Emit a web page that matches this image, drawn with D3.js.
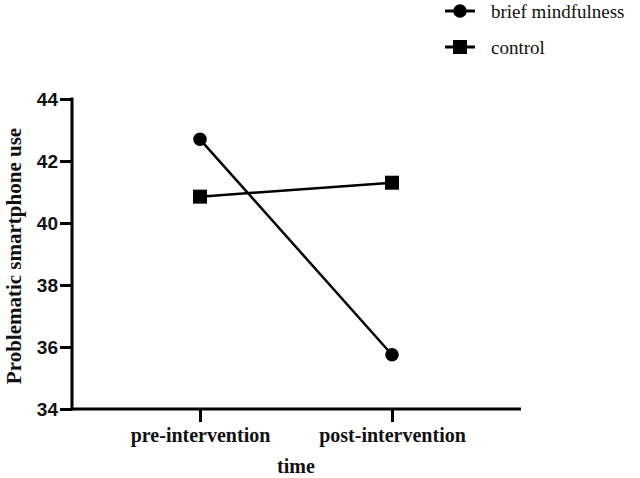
<!DOCTYPE html>
<html><head><meta charset="utf-8">
<script src="https://cdn.jsdelivr.net/npm/d3@7"></script>
<style>body{margin:0;background:#fff}
.serif{font-family:'Liberation Serif','Times New Roman',Times,serif}
.sans{font-family:'Liberation Sans',Arial,Helvetica,sans-serif}
</style>
</head><body>
<svg id="c" width="640" height="478"></svg>
<script>
const categories = ["pre-intervention", "post-intervention"];
const seriesNames = ["brief mindfulness", "control"];
const briefValues = [42.7, 35.75];
const controlValues = [40.85, 41.3];
const yTicks = [34, 36, 38, 40, 42, 44];

const svg = d3.select("#c");
const x = d3.scalePoint().domain(categories).range([200, 392]);
const y = d3.scaleLinear().domain([34, 44]).range([409, 99]);
const axisLeft = 72, axisRight = 521;

// Y axis
const ya = svg.append("g").attr("transform", `translate(${axisLeft},0)`)
  .call(d3.axisLeft(y).tickValues(yTicks).tickSize(12).tickPadding(2).tickFormat(d3.format("d")));
ya.select(".domain").remove();
ya.attr("font-family", null).attr("font-size", null);
ya.selectAll(".tick line").attr("stroke", "#000").attr("stroke-width", 3);
ya.selectAll(".tick text").attr("class", "sans")
  .style("font-weight", "bold").style("font-size", "19px").attr("fill", "#111");
svg.append("line").attr("x1", axisLeft).attr("x2", axisLeft).attr("y1", y(44) - 1.5).attr("y2", y(34) + 1.5)
  .attr("stroke", "#000").attr("stroke-width", 3);

// X axis
const xa = svg.append("g").attr("transform", `translate(0,${y(34)})`)
  .call(d3.axisBottom(x).tickSize(13).tickPadding(6));
xa.select(".domain").remove();
xa.attr("font-family", null).attr("font-size", null);
xa.selectAll(".tick line").attr("stroke", "#000").attr("stroke-width", 3);
xa.selectAll(".tick text").attr("class", "serif")
  .style("font-weight", "bold").style("font-size", "20px").attr("fill", "#111");
svg.append("line").attr("x1", axisLeft - 1.5).attr("x2", axisRight).attr("y1", y(34)).attr("y2", y(34))
  .attr("stroke", "#000").attr("stroke-width", 3);

// Titles
svg.append("text").attr("class", "serif").attr("x", 296).attr("y", 473).attr("text-anchor", "middle")
  .style("font-weight", "bold").style("font-size", "20px").attr("fill", "#111").text("time");
svg.append("text").attr("class", "serif").attr("transform", `translate(21,${(y(34)+y(44))/2 + 2}) rotate(-90)`)
  .attr("text-anchor", "middle")
  .style("font-weight", "bold").style("font-size", "21px").attr("fill", "#111").text("Problematic smartphone use");

// Lines
const line = d3.line().x((d, i) => x(categories[i])).y(d => y(d));
svg.append("path").datum(briefValues).attr("d", line).attr("fill", "none").attr("stroke", "#000").attr("stroke-width", 2.5);
svg.append("path").datum(controlValues).attr("d", line).attr("fill", "none").attr("stroke", "#000").attr("stroke-width", 2.5);

const circ = d3.symbol().type(d3.symbolCircle).size(Math.PI * 6.8 * 6.8);
const sq = d3.symbol().type(d3.symbolSquare).size(14 * 14);
svg.selectAll(".pb").data(briefValues).enter().append("path")
  .attr("transform", (d, i) => `translate(${x(categories[i])},${y(d)})`).attr("d", circ).attr("fill", "#000");
svg.selectAll(".pc").data(controlValues).enter().append("path")
  .attr("transform", (d, i) => `translate(${x(categories[i])},${y(d)})`).attr("d", sq).attr("fill", "#000");

// Legend
const leg = [{name: seriesNames[0], sym: circ, y: 11}, {name: seriesNames[1], sym: sq, y: 47}];
leg.forEach(l => {
  svg.append("line").attr("x1", 445).attr("x2", 475).attr("y1", l.y).attr("y2", l.y).attr("stroke", "#000").attr("stroke-width", 3);
  svg.append("path").attr("transform", `translate(460,${l.y})`).attr("d", l.sym).attr("fill", "#000");
  svg.append("text").attr("class", "serif").attr("x", 491).attr("y", l.y + 7)
    .style("font-size", "19px").attr("fill", "#111").text(l.name);
});
</script>
</body></html>
